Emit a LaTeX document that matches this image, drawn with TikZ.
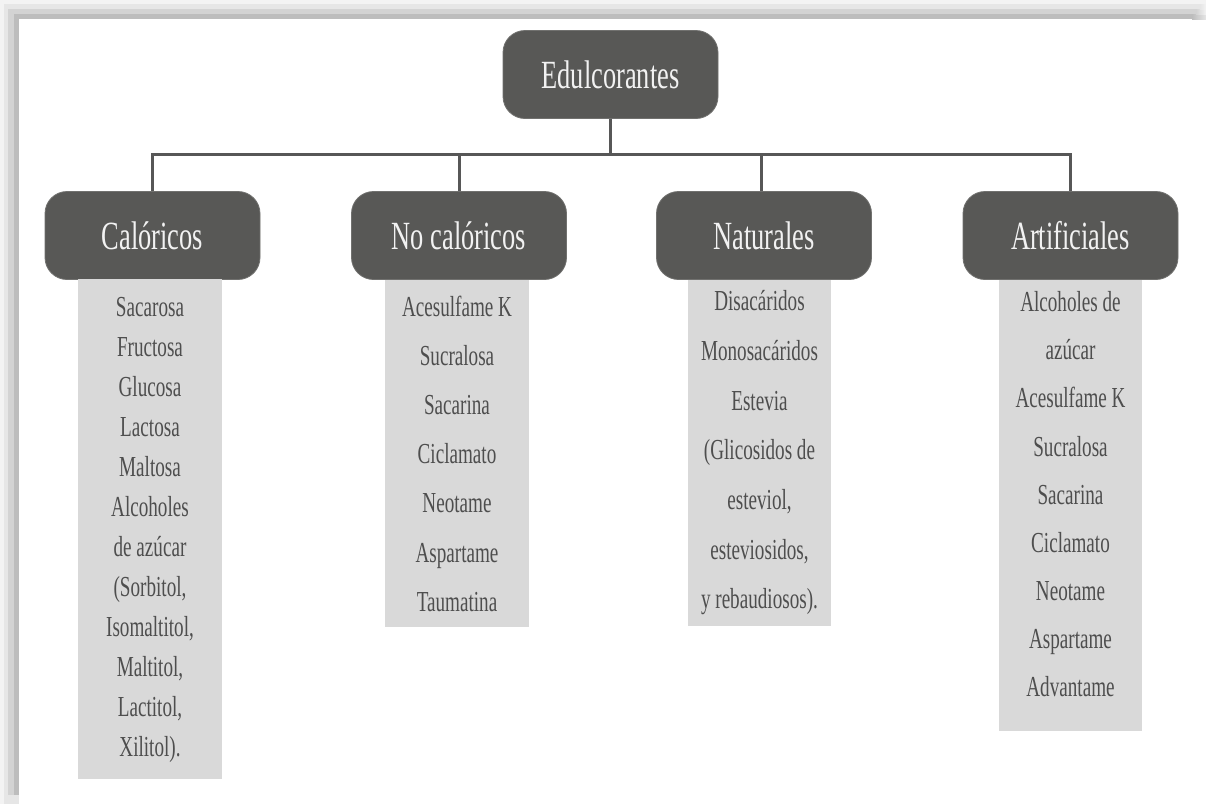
\documentclass[tikz,border=0pt]{standalone}
\usepackage{fontspec}
\setmainfont{Liberation Serif}
\newfontfamily\titlefont[FakeStretch=0.66]{Liberation Serif}
\newfontfamily\itemfont[FakeStretch=0.66]{Liberation Serif}
\definecolor{darkbox}{HTML}{585856}
\definecolor{listgray}{HTML}{D9D9D9}
\definecolor{itemtext}{HTML}{4E4E4E}
\definecolor{titletext}{HTML}{F2F2F2}
\definecolor{connline}{HTML}{575757}
\definecolor{bandA}{HTML}{F3F3F3}
\definecolor{bandB}{HTML}{E6E6E6}
\definecolor{bandC}{HTML}{D3D3D3}
\definecolor{bandD}{HTML}{BDBDBD}
\tikzset{
  titlebox/.style={fill=darkbox, draw=darkbox!85!white, line width=0.8pt, rounded corners=22pt,
    minimum width=215pt, minimum height=88pt, inner sep=0pt,
    text=titletext, font=\titlefont\fontsize{40}{40}\selectfont,
    text height=27pt, text depth=0pt},
  listbox/.style={fill=listgray, draw=none, inner sep=0pt, anchor=north},
  listtext/.style={anchor=north, inner sep=0pt, align=center, text=itemtext},
  conn/.style={draw=connline, line width=3pt}
}
\begin{document}
\begin{tikzpicture}[x=1pt,y=-1pt]
\useasboundingbox (0,0) rectangle (1206,804);
\fill[white] (0,0) rectangle (1206,804);
% frame shadow bands (top)
\fill[bandA] (0,0) rectangle (1206,9);
\fill[bandB] (4,4) rectangle (1200,9);
\fill[bandC] (8,9) rectangle (1196,14);
\fill[bandD] (14,14) rectangle (1192,19);
\shade[left color=bandD, right color=bandB] (1192,14) rectangle (1206,19);
\shade[left color=bandC, right color=bandA] (1196,9) rectangle (1206,14);
\shade[left color=bandB, right color=bandA] (1200,4) rectangle (1206,9);
% frame shadow bands (left)
\fill[bandA] (0,4) rectangle (4,804);
\fill[bandB] (4,9) rectangle (8,804);
\fill[bandC] (8,14) rectangle (14,795);
\fill[bandD] (14,19) rectangle (19,795);
\fill[bandB] (8,795) rectangle (19,804);

% title boxes
\node[titlebox] (top) at (610.5,74.5) {Edulcorantes};
\node[titlebox] (cal) at (152.5,235.5) {Calóricos};
\node[titlebox] (noc) at (459,235.5) {No calóricos};
\node[titlebox] (nat) at (764,235.5) {Naturales};
\node[titlebox] (art) at (1070.5,235.5) {Artificiales};

% connectors
\coordinate (bus) at (610.5,154);
\draw[conn] (top.south) -- (bus);
\draw[conn] (cal.north) |- (bus) -| (art.north);
\draw[conn] (noc.north) -- (noc.north |- bus);
\draw[conn] (nat.north -| 761,0) -- (bus -| 761,0);

% list boxes
\node[listbox, minimum width=144pt, minimum height=500pt] (calbox) at (150,279) {};
\node[listbox, minimum width=144pt, minimum height=347pt] (nocbox) at (457,280) {};
\node[listbox, minimum width=143pt, minimum height=346pt] (natbox) at (759.5,280) {};
\node[listbox, minimum width=143pt, minimum height=451pt] (artbox) at (1070.5,280) {};

% list texts
\node[listtext, font=\itemfont\fontsize{29}{40}\selectfont] (caltext) at (150,297.4)
  {Sacarosa\\Fructosa\\Glucosa\\Lactosa\\Maltosa\\Alcoholes\\de azúcar\\(Sorbitol,\\Isomaltitol,\\Maltitol,\\Lactitol,\\Xilitol).};
\node[listtext, font=\itemfont\fontsize{29}{49.2}\selectfont] (noctext) at (457,295.4)
  {Acesulfame K\\Sucralosa\\Sacarina\\Ciclamato\\Neotame\\Aspartame\\Taumatina};
\node[listtext, font=\itemfont\fontsize{29}{49.7}\selectfont] (nattext) at (759.5,290.4)
  {Disacáridos\\Monosacáridos\\Estevia\\(Glicosidos de\\esteviol,\\esteviosidos,\\y rebaudiosos).};
\node[listtext, font=\itemfont\fontsize{29}{48.1}\selectfont] (arttext) at (1070.5,291.4)
  {Alcoholes de\\azúcar\\Acesulfame K\\Sucralosa\\Sacarina\\Ciclamato\\Neotame\\Aspartame\\Advantame};
\end{tikzpicture}
\end{document}
